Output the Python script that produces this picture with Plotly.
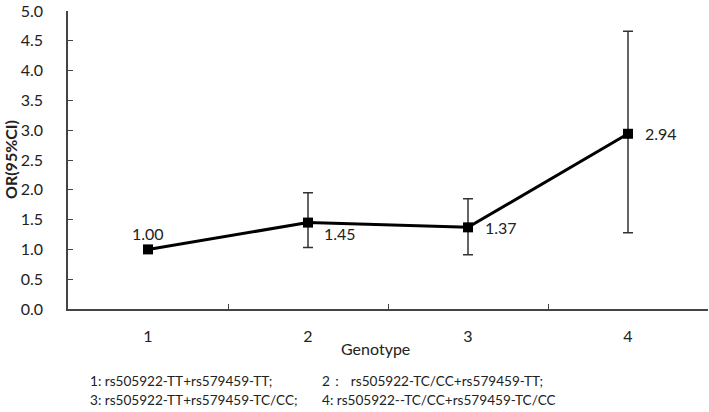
import plotly.graph_objects as go

genotypes = ["1", "2", "3", "4"]
or_values = [1.00, 1.45, 1.37, 2.94]
ci_upper = [1.00, 1.95, 1.85, 4.66]
ci_lower = [1.00, 1.03, 0.91, 1.28]
labels = ["1.00", "1.45", "1.37", "2.94"]
footnotes = [
    ("1: rs505922-TT+rs579459-TT;", "2：  rs505922-TC/CC+rs579459-TT;"),
    ("3: rs505922-TT+rs579459-TC/CC;", "4: rs505922--TC/CC+rs579459-TC/CC"),
]

# label placement (style): anchor and pixel offsets
label_style = [
    dict(xanchor="center", yanchor="middle", xshift=0, yshift=16),
    dict(xanchor="left", yanchor="middle", xshift=14, yshift=-11),
    dict(xanchor="left", yanchor="middle", xshift=15, yshift=0),
    dict(xanchor="left", yanchor="middle", xshift=15, yshift=0),
]

err_plus = [u - v for u, v in zip(ci_upper, or_values)]
err_minus = [v - l for v, l in zip(or_values, ci_lower)]

FONT = "Lato"
W, H = 709, 412
L, T, R, B = 68, 11, 1, 412 - 309
PW, PH = W - L - R, H - T - B


def px(xpix):
    return (xpix - L) / PW


def py(ypix):
    return (H - B - ypix) / PH


fig = go.Figure()
fig.add_trace(go.Scatter(
    x=genotypes, y=or_values,
    mode="lines+markers",
    line=dict(color="black", width=3),
    marker=dict(symbol="square", size=10, color="black"),
    error_y=dict(type="data", symmetric=False, array=err_plus, arrayminus=err_minus,
                 color="#333", thickness=1.5, width=5),
    cliponaxis=False,
    showlegend=False,
))

for i, (v, lab, st) in enumerate(zip(or_values, labels, label_style)):
    fig.add_annotation(x=i, y=v, text=lab, showarrow=False,
                       font=dict(family=FONT, size=16, color="#222"), **st)

fig.update_layout(
    width=W, height=H,
    margin=dict(l=L, r=R, t=T, b=B, autoexpand=False),
    paper_bgcolor="white", plot_bgcolor="white",
    font=dict(family=FONT, size=16, color="#222"),
    xaxis=dict(type="category", range=[-0.5, 3.5], tickson="boundaries",
               ticks="inside", ticklen=5, tickcolor="#444",
               showline=True, linecolor="#444", linewidth=1.5,
               showgrid=False, zeroline=False, ticklabelstandoff=12,
               automargin=False, tickfont=dict(size=16)),
    yaxis=dict(range=[0, 5], dtick=0.5, tickformat=".1f",
               ticks="inside", ticklen=5, tickcolor="#444",
               showline=True, linecolor="#444", linewidth=1.5,
               showgrid=False, zeroline=False, ticklabelstandoff=20,
               ticklabeloverflow="allow",
               automargin=False, tickfont=dict(size=16)),
)

fig.add_annotation(text="Genotype", xref="paper", yref="paper",
                   x=px(375), y=py(348),
                   xanchor="center", yanchor="middle", showarrow=False,
                   font=dict(size=16))
fig.add_annotation(text="<b>OR(95%CI)</b>", xref="paper", yref="paper",
                   x=px(10), y=0.5, textangle=-90,
                   xanchor="center", yanchor="middle", showarrow=False,
                   font=dict(size=16))

rows_y = [381, 400]
for (left, right), ry in zip(footnotes, rows_y):
    fig.add_annotation(text=left, xref="paper", yref="paper",
                       x=px(88), y=py(ry),
                       xanchor="left", yanchor="middle", showarrow=False,
                       font=dict(size=13.6))
    fig.add_annotation(text=right, xref="paper", yref="paper",
                       x=px(320), y=py(ry),
                       xanchor="left", yanchor="middle", showarrow=False,
                       font=dict(size=13.6))

fig.write_html("out.html", config={"displayModeBar": False},
               post_script="document.body.style.margin='0';")
